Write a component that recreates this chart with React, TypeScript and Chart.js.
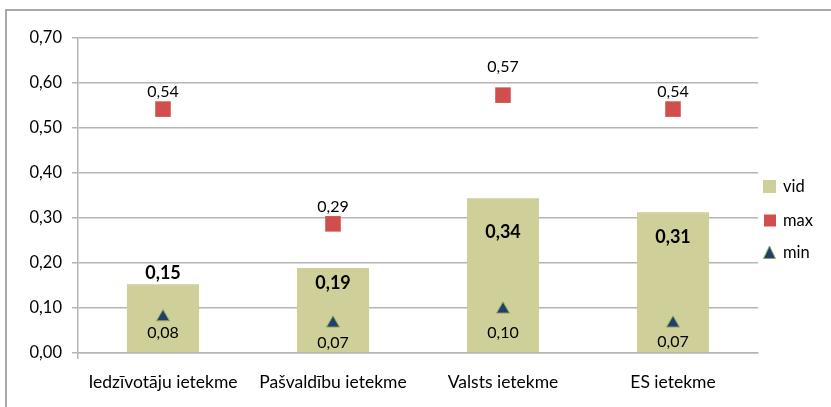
import React, { useEffect, useRef } from "react";
import { Chart, registerables } from "chart.js";

Chart.register(...registerables);

const categories = ["Iedzīvotāju ietekme", "Pašvaldību ietekme", "Valsts ietekme", "ES ietekme"];
const vidValues = [0.153, 0.189, 0.344, 0.313];
const maxValues = [0.542, 0.287, 0.573, 0.542];
const minValues = [0.08, 0.066, 0.097, 0.066];
const seriesNames = ["vid", "max", "min"];

const FONT = "Lato, 'Noto Sans', sans-serif";
const GRID = "#b5b5b5";
const BAR = "#cfcf99";
const RED = "#d04e4b";
const TRI = "#1f3f6e";
const TRI_BORDER = "#9ba55a";

const fmt = (v: number) => (Math.round(v * 100) / 100).toFixed(2).replace(".", ",");

// label vertical offsets (px) relative to each mark
const labelOffsets: Record<string, number[]> = {
  vid: [-11, 15, 34, 25],
  max: [-17, -17, -28, -17],
  min: [16, 20, 23, 19],
};

const labelPlugin = {
  id: "valueLabels",
  afterDatasetsDraw(chart: any) {
    const ctx = chart.ctx;
    ctx.save();
    ctx.textAlign = "center";
    ctx.textBaseline = "middle";
    ctx.fillStyle = "#000";
    chart.data.datasets.forEach((ds: any, di: number) => {
      const meta = chart.getDatasetMeta(di);
      const offs = labelOffsets[ds.label] || [];
      ctx.font = ds.label === "vid" ? `bold 18px ${FONT}` : `16px ${FONT}`;
      meta.data.forEach((el: any, i: number) => {
        const v = ds.data[i];
        ctx.fillText(fmt(v), el.x, el.y + (offs[i] || 0));
      });
    });
    ctx.restore();
  },
};

const legendPlugin = {
  id: "customLegend",
  afterDraw(chart: any) {
    const ctx = chart.ctx;
    ctx.save();
    const x0 = 763;
    const ys = [186.5, 220.5, 253];
    ctx.font = `16.5px ${FONT}`;
    ctx.textBaseline = "middle";
    ctx.textAlign = "left";
    chart.data.datasets.forEach((ds: any, di: number) => {
      const y = ys[di];
      if (ds.label === "vid") {
        ctx.fillStyle = BAR;
        ctx.fillRect(x0, y - 6.5, 13, 13);
      } else if (ds.label === "max") {
        ctx.fillStyle = RED;
        ctx.fillRect(x0 + 1, y - 6, 12, 12);
      } else {
        ctx.beginPath();
        ctx.moveTo(x0 + 6.5, y - 7);
        ctx.lineTo(x0 + 12.5, y + 5.5);
        ctx.lineTo(x0 + 0.5, y + 5.5);
        ctx.closePath();
        ctx.fillStyle = TRI;
        ctx.fill();
        ctx.strokeStyle = TRI_BORDER;
        ctx.lineWidth = 1;
        ctx.stroke();
      }
      ctx.fillStyle = "#000";
      ctx.fillText(ds.label, 783, y);
    });
    ctx.restore();
  },
};

export default function App() {
  const ref = useRef<HTMLCanvasElement | null>(null);
  useEffect(() => {
    if (!ref.current) return;
    const chart = new Chart(ref.current, {
      type: "bar",
      data: {
        labels: categories,
        datasets: [
          {
            type: "bar",
            label: seriesNames[0],
            data: vidValues,
            backgroundColor: BAR,
            borderWidth: 0,
            barPercentage: 0.424,
            categoryPercentage: 1,
            order: 3,
          },
          {
            type: "line",
            label: seriesNames[1],
            data: maxValues,
            showLine: false,
            pointStyle: "rect",
            pointRadius: 11,
            pointBorderWidth: 0,
            backgroundColor: RED,
            borderColor: RED,
            order: 2,
          },
          {
            type: "line",
            label: seriesNames[2],
            data: minValues,
            showLine: false,
            pointStyle: "triangle",
            pointRadius: 7.5,
            pointBorderWidth: 1,
            backgroundColor: TRI,
            borderColor: TRI_BORDER,
            order: 1,
          },
        ] as any,
      },
      options: {
        animation: false,
        responsive: false,
        maintainAspectRatio: false,
        layout: { padding: { left: 0, top: 38, right: 73, bottom: 0 } },
        plugins: {
          legend: { display: false },
          tooltip: { enabled: false },
        },
        scales: {
          x: {
            offset: true,
            grid: {
              display: true,
              drawOnChartArea: false,
              drawTicks: true,
              tickLength: 6,
              color: (c: any) => (c.index === 0 ? GRID : "rgba(0,0,0,0)"),
              lineWidth: 1.5,
            },
            border: { display: true, color: GRID, width: 1.5 },
            ticks: {
              color: "#000",
              font: { family: FONT, size: 17.5 },
              padding: 13,
              maxRotation: 0,
              autoSkip: false,
            },
            afterFit: (s: any) => {
              s.height = 54;
            },
          },
          y: {
            min: 0,
            max: 0.7,
            grid: { color: GRID, lineWidth: 1.5, tickLength: 6, drawTicks: true },
            border: { display: true, color: GRID, width: 1.5 },
            ticks: {
              stepSize: 0.1,
              color: "#000",
              font: { family: FONT, size: 16.5 },
              padding: 10,
              callback: (v: any) => fmt(Number(v)),
            },
            afterFit: (s: any) => {
              s.width = 78;
            },
          },
        },
      },
      plugins: [labelPlugin, legendPlugin],
    });
    return () => chart.destroy();
  }, []);

  return (
    <div style={{ position: "absolute", left: 0, top: 0, width: 831, height: 407, overflow: "hidden", background: "#fff" }}>
      <div
        style={{
          position: "absolute",
          left: 5,
          top: 9,
          width: 900,
          height: 500,
          borderLeft: "2px solid #a8a8a8",
          borderTop: "2px solid #a8a8a8",
        }}
      />
      <canvas ref={ref} width={831} height={407} style={{ position: "absolute", left: 0, top: 0 }} />
    </div>
  );
}
